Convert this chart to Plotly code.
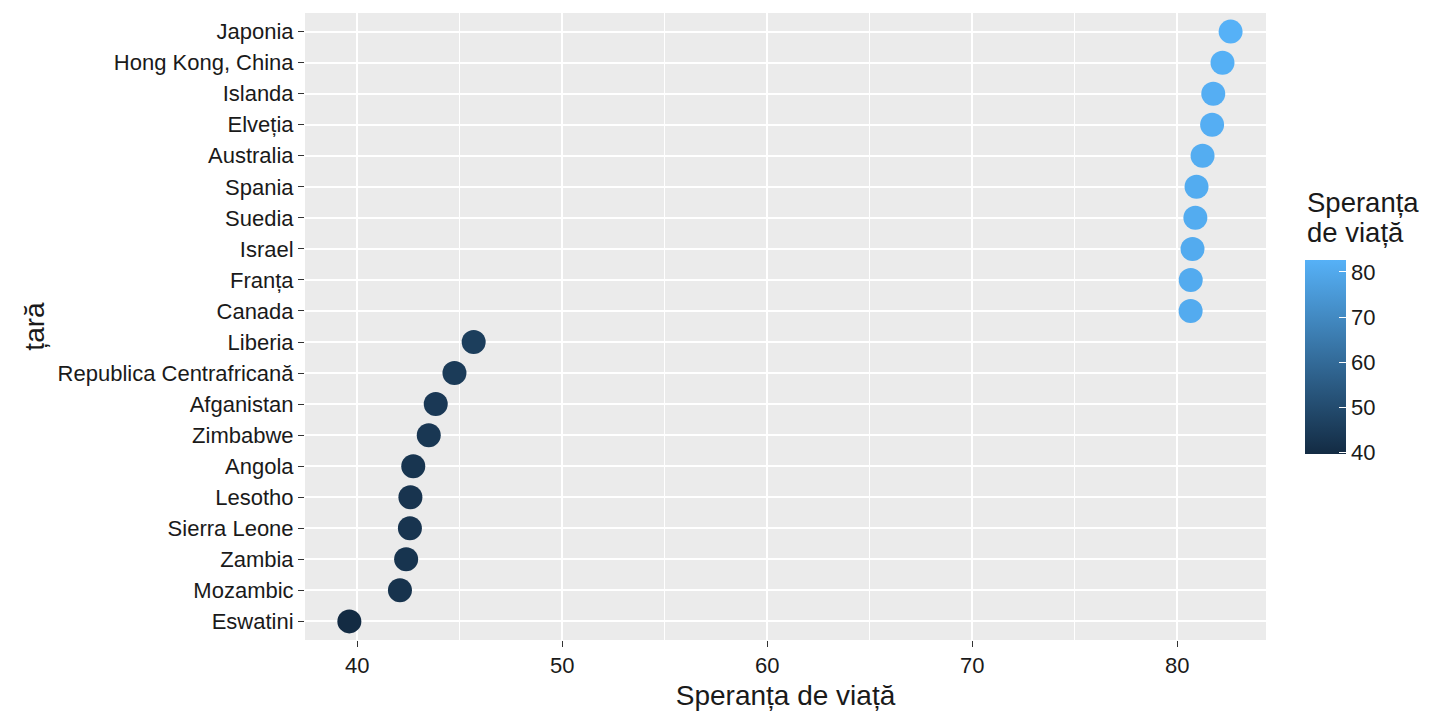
import plotly.graph_objects as go

countries = ["Eswatini", "Mozambic", "Zambia", "Sierra Leone", "Lesotho", "Angola",
             "Zimbabwe", "Afganistan", "Republica Centrafricană", "Liberia",
             "Canada", "Franța", "Israel", "Suedia", "Spania", "Australia",
             "Elveția", "Islanda", "Hong Kong, China", "Japonia"]
life_exp = [39.613, 42.082, 42.384, 42.568, 42.592, 42.731,
            43.487, 43.828, 44.741, 45.678,
            80.653, 80.657, 80.745, 80.884, 80.941, 81.235,
            81.701, 81.757, 82.208, 82.603]
x_ticks = [40, 50, 60, 70, 80]
cbar_ticks = [40, 50, 60, 70, 80]
legend_title_lines = ["Speranța", "de viață"]

FONT = "Liberation Sans, Arial, sans-serif"
TXT = "#1a1a1a"
W, H = 1432, 712
PL, PR, PT, PB = 297, 1258, 5, 632  # plot area in figure pixels


def px_to_paper(xp, yp):
    return (xp - PL) / (PR - PL), (PB - yp) / (PB - PT)


fig = go.Figure(go.Scatter(
    x=life_exp, y=countries, mode="markers",
    marker=dict(
        size=24, color=life_exp,
        colorscale=[[0, "#132B43"], [1, "#56B1F7"]],
        cmin=min(life_exp), cmax=max(life_exp),
        line=dict(width=0),
        colorbar=dict(
            thickness=41, thicknessmode="pixels",
            len=194, lenmode="pixels",
            x=1297 / W, xref="container", xanchor="left", xpad=0,
            y=205.3 / H, yref="container", yanchor="bottom", ypad=0,
            tickvals=cbar_ticks, ticks="inside", tickcolor="white",
            ticklen=7, tickwidth=1.2,
            tickfont=dict(size=22, color=TXT, family=FONT),
            outlinewidth=0,
        ),
    ),
    hovertemplate="%{y}: %{x}<extra></extra>",
))

annotations = []
for line, yc in zip(legend_title_lines, [195, 224]):
    ax, ay = px_to_paper(1297, yc)
    annotations.append(dict(
        text=line, xref="paper", yref="paper", x=ax, y=ay,
        xanchor="left", yanchor="middle", align="left", showarrow=False,
        font=dict(size=27.5, color=TXT, family=FONT),
    ))

fig.update_layout(
    width=W, height=H,
    margin=dict(l=PL, r=W - PR, t=PT, b=H - PB, autoexpand=False),
    paper_bgcolor="white", plot_bgcolor="#EBEBEB",
    font=dict(family=FONT, color=TXT),
    showlegend=False,
    annotations=annotations,
)
fig.update_xaxes(
    range=[37.45, 84.33], tickvals=x_ticks,
    showgrid=True, gridcolor="white", gridwidth=2,
    minor=dict(tickvals=[45, 55, 65, 75], showgrid=True, gridcolor="white", gridwidth=1),
    ticks="outside", ticklen=6, tickcolor="#333333", tickwidth=1.2,
    tickfont=dict(size=22, color=TXT),
    title=dict(text="Speranța de viață", font=dict(size=28, color=TXT), standoff=7),
    zeroline=False, showline=False, automargin=False,
)
fig.update_yaxes(
    categoryorder="array", categoryarray=countries, range=[-0.6, 19.6],
    showgrid=True, gridcolor="white", gridwidth=2,
    ticks="outside", ticklen=6, tickcolor="#333333", tickwidth=1.2,
    tickfont=dict(size=22, color=TXT),
    title=dict(text="țară", font=dict(size=28, color=TXT), standoff=4),
    zeroline=False, showline=False, automargin=False,
)

fig.write_html("out.html")
